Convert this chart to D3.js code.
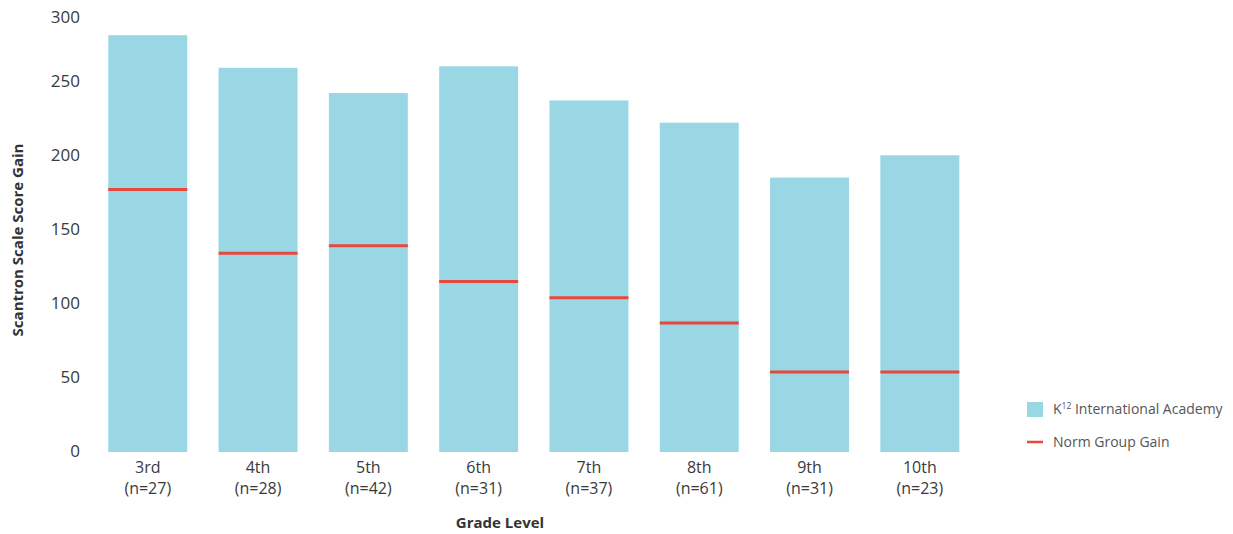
<!DOCTYPE html>
<html>
<head>
<meta charset="utf-8">
<script src="https://cdn.jsdelivr.net/npm/d3@7"></script>
<style>
  html, body { margin: 0; padding: 0; background: #ffffff; }
  svg { display: block; }
  text { font-family: "Open Sans", "Noto Sans", sans-serif; }
</style>
</head>
<body>
<svg id="chart" width="1233" height="534"></svg>
<script>
// Grade levels with sample sizes
const grades = ["3rd", "4th", "5th", "6th", "7th", "8th", "9th", "10th"];
const sampleSizes = [27, 28, 42, 31, 37, 61, 31, 23];
// Average Scantron scale score gain for the academy
const academyGain = [281, 259, 242, 260, 237, 222, 185, 200];
// Norm group gain for each grade
const normGain = [177, 134, 139, 115, 104, 87, 54, 54];
// Y axis ticks
const yTicks = [0, 50, 100, 150, 200, 250, 300];

const barColor = "#9ad7e5";
const normColor = "#e8473b";
const textColor = "#3a3a3a";

const svg = d3.select("#chart");

const x = d3.scaleBand()
  .domain(grades)
  .range([92.6, 975])
  .paddingInner(0.284)
  .paddingOuter(0.142);

const y = d3.scaleLinear()
  .domain([0, 300])
  .range([452, 7]);

// Bars
svg.append("g")
  .selectAll("rect")
  .data(grades)
  .join("rect")
  .attr("x", d => x(d))
  .attr("y", (d, i) => y(academyGain[i]))
  .attr("width", x.bandwidth())
  .attr("height", (d, i) => y(0) - y(academyGain[i]))
  .attr("fill", barColor);

// Norm group gain markers
svg.append("g")
  .selectAll("line")
  .data(grades)
  .join("line")
  .attr("x1", d => x(d))
  .attr("x2", d => x(d) + x.bandwidth())
  .attr("y1", (d, i) => y(normGain[i]))
  .attr("y2", (d, i) => y(normGain[i]))
  .attr("stroke", normColor)
  .attr("stroke-width", 3);

// Y axis (labels only)
const yAxis = svg.append("g")
  .attr("transform", "translate(80,0)")
  .call(d3.axisLeft(y).tickValues(yTicks).tickSize(0).tickPadding(0));
yAxis.select(".domain").remove();
// keep the top label clear of the page edge
yAxis.selectAll(".tick")
  .attr("transform", d => "translate(0," + Math.max(y(d), 18) + ")");
yAxis.selectAll("text")
  .attr("font-family", "'Open Sans', 'Noto Sans', sans-serif")
  .attr("font-size", 17)
  .attr("fill", textColor);

// X axis with grade and sample size on two lines
const xAxis = svg.append("g")
  .attr("transform", "translate(0,452)")
  .call(d3.axisBottom(x).tickSize(0).tickFormat(""));
xAxis.select(".domain").remove();
xAxis.selectAll(".tick").each(function(d, i) {
  const t = d3.select(this).append("text")
    .attr("text-anchor", "middle")
    .attr("fill", textColor)
    .attr("font-size", 16);
  t.append("tspan").attr("x", 0).attr("y", 21).text(d);
  t.append("tspan").attr("x", 0).attr("y", 42).text("(n=" + sampleSizes[i] + ")");
});

// Axis titles
svg.append("text")
  .attr("x", 500)
  .attr("y", 528)
  .attr("text-anchor", "middle")
  .attr("font-weight", "bold")
  .attr("font-size", 15)
  .attr("fill", "#333")
  .text("Grade Level");

svg.append("text")
  .attr("transform", "translate(23,240) rotate(-90)")
  .attr("text-anchor", "middle")
  .attr("font-weight", "bold")
  .attr("font-size", 15)
  .attr("fill", "#333")
  .text("Scantron Scale Score Gain");

// Legend
const legend = svg.append("g").attr("transform", "translate(1027,0)");
legend.append("rect")
  .attr("x", 0).attr("y", 402)
  .attr("width", 16).attr("height", 15)
  .attr("fill", barColor);
const l1 = legend.append("text")
  .attr("x", 26).attr("y", 414)
  .attr("font-size", 14)
  .attr("fill", "#555");
l1.append("tspan").text("K");
l1.append("tspan").attr("font-size", 8.5).attr("dy", -5.5).text("12");
l1.append("tspan").attr("dy", 5.5).text(" International Academy");

legend.append("line")
  .attr("x1", 0).attr("x2", 16)
  .attr("y1", 442).attr("y2", 442)
  .attr("stroke", normColor)
  .attr("stroke-width", 2.5);
legend.append("text")
  .attr("x", 26).attr("y", 447)
  .attr("font-size", 14)
  .attr("fill", "#555")
  .text("Norm Group Gain");
</script>
</body>
</html>
